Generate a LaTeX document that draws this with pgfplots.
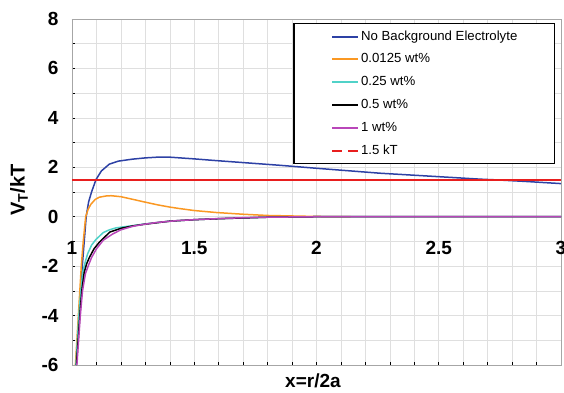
\documentclass[border=0pt]{standalone}
\usepackage{pgfplots}
\pgfplotsset{compat=1.18}
\usepackage{fontspec}
\setmainfont{Liberation Sans}
\usetikzlibrary{calc}

\definecolor{noBgBlue}{RGB}{45,65,165}
\definecolor{lowOrange}{RGB}{250,152,35}
\definecolor{midCyan}{RGB}{80,210,200}
\definecolor{highMagenta}{RGB}{185,70,185}
\definecolor{refRed}{RGB}{232,30,30}

\begin{document}
\begin{tikzpicture}
\begin{axis}[
  scale only axis,
  width=489pt, height=346pt,
  xmin=1, xmax=3, ymin=-6, ymax=8,
  xtick={1,1.5,2,2.5,3},
  xticklabels={1,1.5,2,2.5,3},
  minor x tick num=4,
  ytick={-6,-4,-2,0,2,4,6,8},
  yticklabels={-6,-4,-2,0,2,4,6,8},
  minor y tick num=1,
  grid=both,
  major grid style={gray!25, line width=0.6pt},
  minor grid style={gray!25, line width=0.6pt},
  axis line style={gray!70, line width=0.8pt},
  tick align=inside,
  xtick pos=bottom, ytick pos=left,
  major tick length=3pt, minor tick length=3pt,
  tick style={black, line width=0.6pt},
  tick label style={font=\bfseries\fontsize{19}{21}\selectfont},
  x tick label style={yshift=127pt},
  y tick label style={xshift=-10pt},
  xlabel={\textbf{x=r/2a}},
  ylabel={\textbf{V\textsubscript{T}/kT}},
  every axis x label/.style={at={(rel axis cs:0.5,0)}, xshift=-3.5pt, yshift=-16pt, anchor=center, font=\fontsize{19}{21}\selectfont},
  every axis y label/.style={at={(rel axis cs:0,0.506)}, xshift=-53pt, rotate=90, anchor=center, font=\fontsize{20}{22}\selectfont},
  legend style={at={(rel axis cs:0.9877,0.9884)}, anchor=north east,
    draw=black, line width=1.2pt, inner xsep=35pt, inner ysep=4.5pt,
    font=\fontsize{13.2}{15}\selectfont, row sep=5.8pt,
    nodes={inner sep=2pt, text height=10pt, text depth=3pt}},
  legend cell align=left,
  legend image code/.code={%
    \path[draw=none] (-3pt,0pt) -- (0pt,0pt);
    \draw[#1, line width=2.1pt] (0pt,0pt) -- (26pt,0pt);},
]
\coordinate (sw) at (rel axis cs:0,0);
\coordinate (ne) at (rel axis cs:1,1);

\addplot[draw=noBgBlue, line width=1.5pt] coordinates {
(1.016,-6) (1.023,-5) (1.030,-4) (1.036,-3) (1.042,-2) (1.050,-1) (1.058,0)
(1.068,0.6) (1.080,1.0) (1.098,1.5) (1.120,1.85) (1.153,2.13) (1.190,2.25)
(1.248,2.33) (1.300,2.38) (1.350,2.41) (1.400,2.41) (1.442,2.38) (1.500,2.34)
(1.590,2.27) (1.700,2.19) (1.851,2.08) (2.000,1.96) (2.260,1.76) (2.500,1.62)
(2.669,1.52) (2.737,1.49) (2.850,1.43) (3.000,1.34)};
\addlegendentry{No Background Electrolyte}

\addplot[draw=lowOrange, line width=1.5pt] coordinates {
(1.014,-6) (1.020,-5) (1.026,-4) (1.032,-3) (1.038,-2) (1.046,-1) (1.056,0)
(1.066,0.3) (1.077,0.5) (1.095,0.7) (1.112,0.79) (1.140,0.84) (1.160,0.85)
(1.200,0.81) (1.250,0.70) (1.290,0.61) (1.350,0.48) (1.400,0.39) (1.440,0.33)
(1.500,0.25) (1.590,0.17) (1.700,0.10) (1.800,0.05) (1.900,0.03) (2.000,0.01)
(2.140,0)};
\addlegendentry{0.0125 wt\%}

\addplot[draw=midCyan, line width=1.5pt] coordinates {
(1.016,-6) (1.022,-5) (1.028,-4) (1.036,-3) (1.045,-2.2) (1.055,-1.8)
(1.064,-1.5) (1.080,-1.15) (1.098,-0.92) (1.128,-0.64) (1.153,-0.53)
(1.180,-0.45) (1.250,-0.36) (1.300,-0.29) (1.400,-0.18) (1.500,-0.12)
(1.600,-0.08) (1.800,-0.02) (2.000,0) (2.500,0) (3.000,0)};
\addlegendentry{0.25 wt\%}

\addplot[draw=black, line width=1.5pt] coordinates {
(1.018,-6) (1.025,-5) (1.032,-4) (1.040,-3) (1.050,-2.25) (1.060,-1.9)
(1.071,-1.65) (1.090,-1.3) (1.112,-1.03) (1.155,-0.62) (1.200,-0.47)
(1.250,-0.37) (1.300,-0.30) (1.400,-0.18) (1.500,-0.12) (1.600,-0.08)
(1.800,-0.02) (2.000,0) (2.500,0) (3.000,0)};
\addlegendentry{0.5 wt\%}

\addplot[draw=highMagenta, line width=1.5pt] coordinates {
(1.020,-6) (1.027,-5) (1.034,-4) (1.043,-3) (1.055,-2.3) (1.068,-1.95)
(1.080,-1.65) (1.100,-1.3) (1.128,-0.95) (1.166,-0.70) (1.200,-0.53)
(1.248,-0.39) (1.292,-0.31) (1.350,-0.23) (1.428,-0.16) (1.500,-0.12)
(1.590,-0.08) (1.700,-0.04) (1.800,-0.02) (1.900,-0.01) (2.000,0)
(2.500,0) (3.000,0)};
\addlegendentry{1 wt\%}

\addplot[draw=refRed, line width=1.8pt, forget plot] coordinates {(1,1.5) (3,1.5)};
\addlegendimage{draw=refRed, dash pattern=on 10pt off 6pt}
\addlegendentry{1.5 kT}
\end{axis}
\pgfresetboundingbox
\path ($(sw)+(-72pt,-27pt)$) rectangle ($(ne)+(3pt,19pt)$);
\end{tikzpicture}
\end{document}
